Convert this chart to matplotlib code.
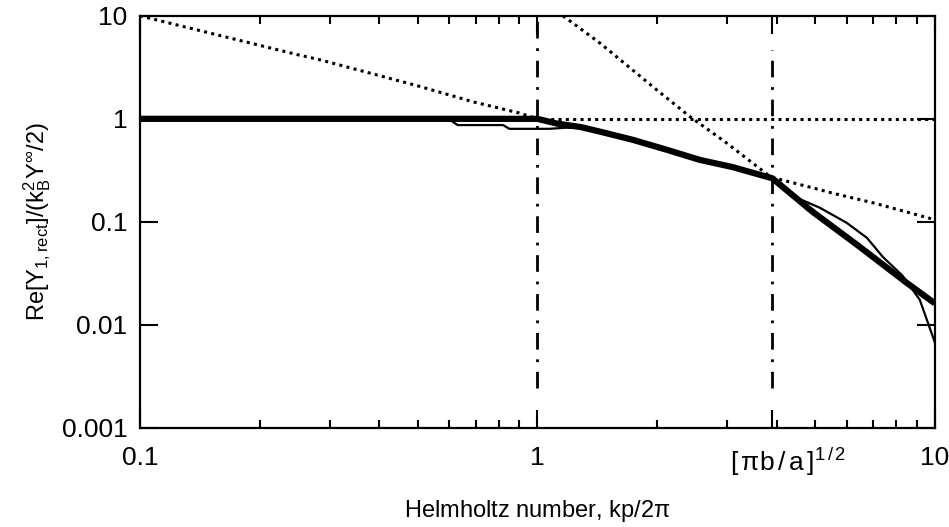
import matplotlib
matplotlib.use('Agg')
import matplotlib.pyplot as plt
import matplotlib.transforms as mtransforms
from matplotlib.ticker import NullFormatter, LogLocator, FixedLocator

# 폰트 설정 (Helvetica 계열)
plt.rcParams['font.family'] = ['Liberation Sans', 'DejaVu Sans']
plt.rcParams['mathtext.fontset'] = 'custom'
plt.rcParams['mathtext.rm'] = 'Liberation Sans'
plt.rcParams['mathtext.it'] = 'Liberation Sans'
plt.rcParams['mathtext.sf'] = 'Liberation Sans'

# 정확한 해 (굵은 선)
exact_x = [0.1, 0.5, 1.0, 1.12, 1.29, 1.44, 1.74, 2.12, 2.56, 3.1, 3.9, 4.93, 6.37, 8.5, 10.0]
exact_y = [1.0, 1.0, 1.0, 0.90, 0.83, 0.75, 0.625, 0.50, 0.40, 0.34, 0.265, 0.125, 0.060, 0.0256, 0.0162]

# 근사 해 (가는 선)
approx_x = [0.1, 0.27, 0.6, 0.63, 0.82, 0.85, 1.07, 1.18, 1.29, 1.44, 1.74, 2.12, 2.56, 3.1, 3.9,
            4.6, 5.14, 6.0, 6.75, 7.4, 8.3, 9.17, 10.0]
approx_y = [1.0, 0.99, 0.985, 0.87, 0.87, 0.80, 0.80, 0.82, 0.815, 0.74, 0.62, 0.50, 0.40, 0.34, 0.265,
            0.165, 0.137, 0.098, 0.070, 0.0457, 0.030, 0.0175, 0.0068]

# 점근선들 (점선)
flat_x = [0.1, 10.0]
flat_y = [1.0, 1.0]

low_x = [0.1, 0.25, 0.284, 0.5, 0.69, 0.9, 1.0, 1.12, 1.29, 1.44, 1.74, 2.12, 2.56, 3.1, 3.9,
         5.14, 5.53, 7.0, 10.0]
low_y = [10.0, 4.18, 3.74, 2.09, 1.46, 1.14, 1.0, 0.90, 0.83, 0.75, 0.625, 0.50, 0.40, 0.34, 0.27,
         0.205, 0.19, 0.153, 0.105]

high_x = [1.16, 1.44, 2.0, 2.42, 3.0, 3.9, 5.0, 7.0, 10.0]
high_y = [10.0, 5.4, 1.9, 1.05, 0.58, 0.265, 0.125, 0.046, 0.016]

# 수직 기준선 위치
ref_x = [1.0, 3.9]
ref_top = [9.0, 4.7]
ref_bottom = 0.00245

xtick_vals = [0.1, 1.0, 3.9, 10.0]
xtick_text = ['0.1', '1', r'$[\,\pi\mathrm{b\,/\,a}\,]^{1\,/\,2}$', '10']
ytick_vals = [0.001, 0.01, 0.1, 1, 10]
ytick_text = ['0.001', '0.01', '0.1', '1', '10']

fig = plt.figure(figsize=(9.49, 5.27), dpi=100)
ax = fig.add_axes([0.1475, 0.188, 0.8375, 0.782])

dot = (0, (1, 1.4))
ax.plot(flat_x, flat_y, color='black', lw=2.2, linestyle=dot)
ax.plot(low_x, low_y, color='black', lw=2.2, linestyle=dot)
ax.plot(high_x, high_y, color='black', lw=2.2, linestyle=dot)

for xv, top in zip(ref_x, ref_top):
    ax.plot([xv, xv], [ref_bottom, top], color='black', lw=2.0, linestyle=(0, (6, 3.5, 1, 3.5)))

ax.plot(exact_x, exact_y, color='black', lw=4.5, solid_capstyle='butt')
ax.plot(approx_x, approx_y, color='black', lw=1.6)

ax.set_xscale('log')
ax.set_yscale('log')
ax.set_xlim(0.1, 10)
ax.set_ylim(0.001, 10)

ax.xaxis.set_major_locator(FixedLocator(xtick_vals))
ax.set_xticklabels(xtick_text)
ax.xaxis.set_minor_locator(LogLocator(base=10, subs=range(2, 10)))
ax.xaxis.set_minor_formatter(NullFormatter())
ax.yaxis.set_major_locator(FixedLocator(ytick_vals))
ax.set_yticklabels(ytick_text)
ax.yaxis.set_minor_locator(FixedLocator([]))

ax.tick_params(which='major', direction='in', length=13, width=1.5, top=True, right=True,
               labelsize=19, pad=13)
ax.tick_params(which='minor', direction='in', length=6, width=1.5, top=True, right=True)
ax.tick_params(axis='y', pad=9)

# 세 번째 눈금 라벨은 조금 오른쪽으로
lbl = ax.get_xticklabels()[2]
lbl.set_transform(lbl.get_transform() + mtransforms.ScaledTranslation(16 / 100, 0, fig.dpi_scale_trans))

for s in ax.spines.values():
    s.set_linewidth(1.6)

ax.set_xlabel(r'Helmholtz number, kp/2$\pi$', fontsize=17, labelpad=14)
ax.set_ylabel(r'Re[Y$_{1,\mathrm{rect}}$]/(k$_\mathrm{B}^{2}$Y$^{\infty}$/2)', fontsize=17, labelpad=6)

fig.savefig('out.png', dpi=100)
